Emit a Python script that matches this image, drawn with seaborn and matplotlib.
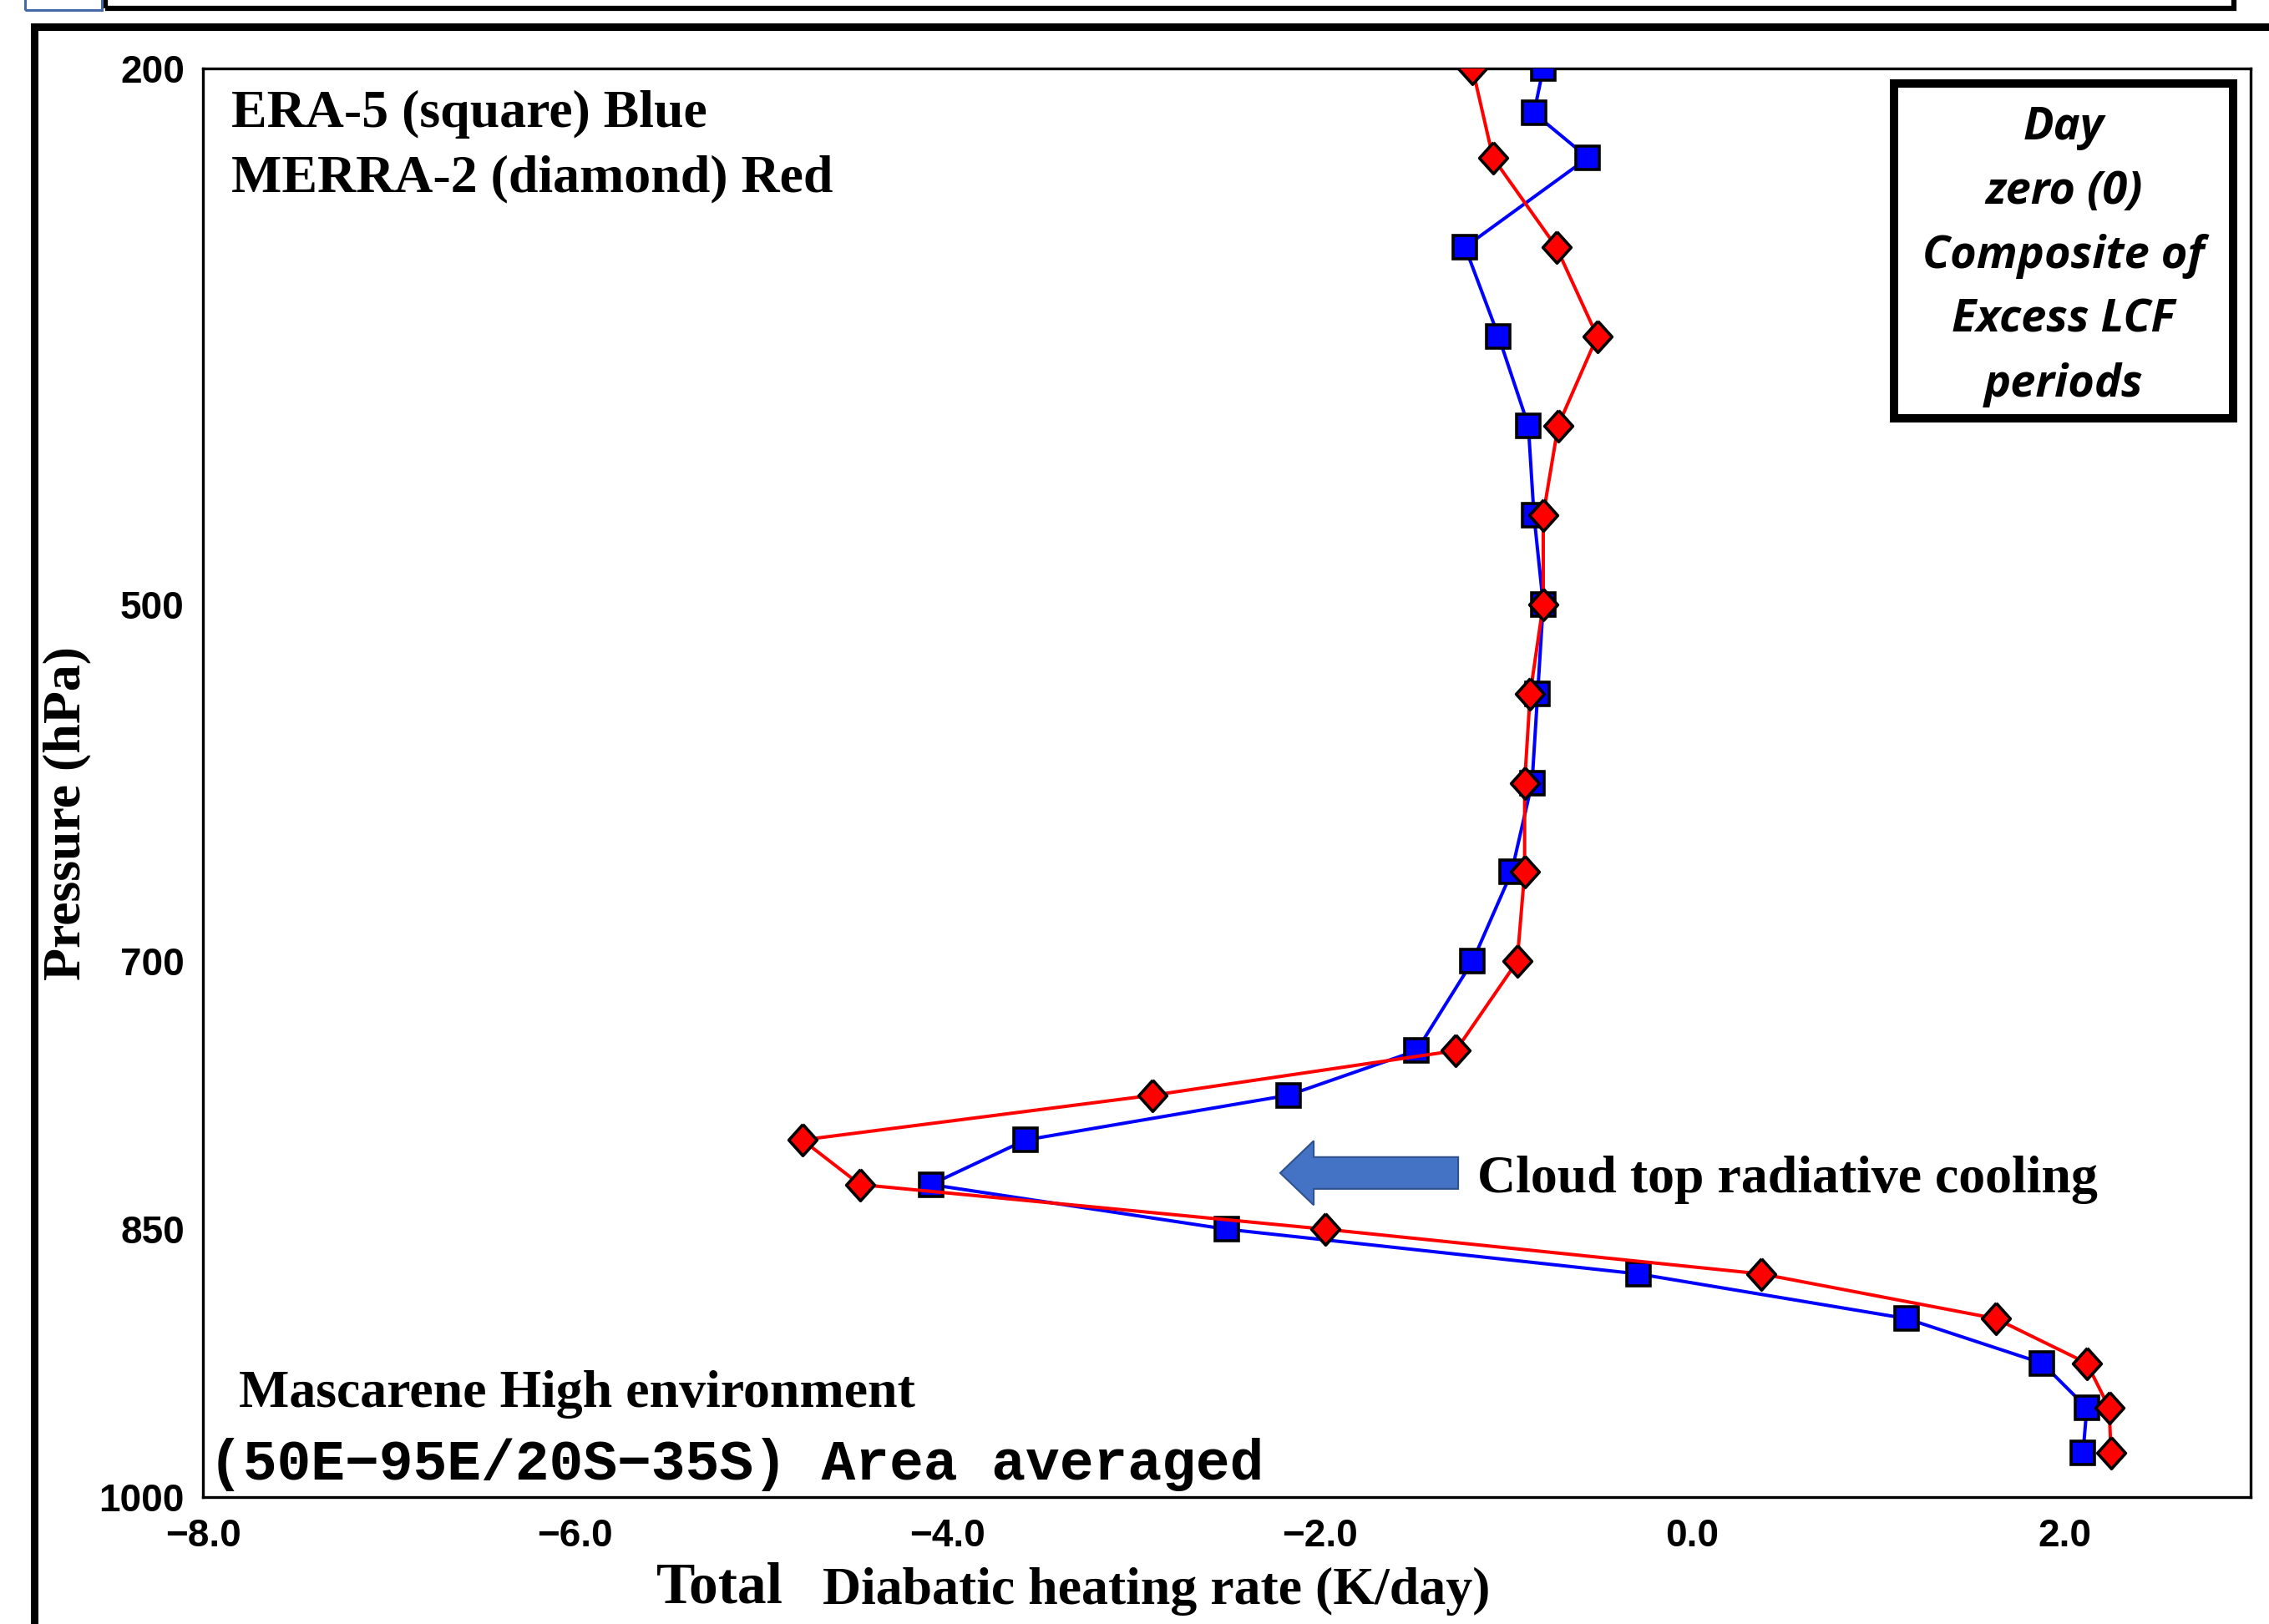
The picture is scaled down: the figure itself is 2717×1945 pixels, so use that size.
import matplotlib
matplotlib.use("Agg")
import matplotlib.pyplot as plt
import matplotlib.patches as mpatches
import seaborn as sns

# pressure levels (hPa) and total diabatic heating rate (K/day)
era5_levels = [200, 225, 250, 300, 350, 400, 450, 500, 550, 600, 650,
               700, 750, 775, 800, 825, 850, 875, 900, 925, 950, 975]
era5_heating = [-0.80, -0.85, -0.56, -1.22, -1.04, -0.88, -0.85, -0.80, -0.83, -0.86, -0.97,
                -1.18, -1.48, -2.17, -3.58, -4.09, -2.50, -0.29, 1.15, 1.88, 2.12, 2.10]

merra2_levels = [200, 250, 300, 350, 400, 450, 500, 550, 600, 650,
                 700, 750, 775, 800, 825, 850, 875, 900, 925, 950, 975]
merra2_heating = [-1.18, -1.07, -0.73, -0.51, -0.72, -0.80, -0.80, -0.87, -0.90, -0.90,
                  -0.94, -1.27, -2.90, -4.78, -4.47, -1.97, 0.37, 1.63, 2.12, 2.24, 2.25]

x_ticks = [-8, -6, -4, -2, 0, 2]
x_ticklabels = ["\u22128.0", "\u22126.0", "\u22124.0", "\u22122.0", "0.0", "2.0"]
y_ticks = [200, 500, 700, 850, 1000]
y_ticklabels = ["200", "500", "700", "850", "1000"]

box_lines = ["Day", "zero (0)", "Composite of", "Excess LCF", "periods"]

W, H = 2717, 1945


def fx(px):
    return px / W


def fy(py):
    return 1 - py / H


sns.set_style("white")
plt.rcParams["font.family"] = ["Liberation Serif", "DejaVu Serif"]
plt.rcParams["text.color"] = "black"
plt.rcParams["xtick.color"] = "black"
plt.rcParams["ytick.color"] = "black"
plt.rcParams["axes.labelcolor"] = "black"

fig = plt.figure(figsize=(W / 100, H / 100), dpi=100)
ax = fig.add_axes([fx(243), fy(1793), fx(2695) - fx(243), fy(82) - fy(1793)])

sns.lineplot(x=era5_heating, y=era5_levels, orient="y", sort=False, estimator=None,
             color="#0000FF", linewidth=2.9, marker="s", markersize=19.5,
             markerfacecolor="#0000FF", markeredgecolor="black", markeredgewidth=2.6,
             ax=ax, zorder=3)
diamond = [(0, 1), (0.9, 0), (0, -1), (-0.9, 0), (0, 1)]
sns.lineplot(x=merra2_heating, y=merra2_levels, orient="y", sort=False, estimator=None,
             color="#FF0000", linewidth=2.9, marker=diamond, markersize=27,
             markerfacecolor="#FF0000", markeredgecolor="black", markeredgewidth=2.6,
             ax=ax, zorder=4)

ax.set_xlim(-8, 3)
ax.set_ylim(1000, 200)
ax.set_xticks(x_ticks)
ax.set_xticklabels(x_ticklabels)
ax.set_yticks(y_ticks)
ax.set_yticklabels(y_ticklabels)
ax.tick_params(axis="both", length=0, labelsize=33, colors="black")
ax.tick_params(axis="y", pad=16)
ax.tick_params(axis="x", pad=18)
for lab in ax.get_xticklabels() + ax.get_yticklabels():
    lab.set_fontfamily(["Liberation Sans", "DejaVu Sans"])
    lab.set_fontweight("bold")
for sp in ax.spines.values():
    sp.set_linewidth(2.4)
    sp.set_color("black")
ax.set_xlabel("")
ax.set_ylabel("")
ax.grid(False)

# cloud-top cooling arrow
arrow = mpatches.FancyArrow(-1.257, 818.5, -0.956, 0, width=17.8, head_width=36,
                            head_length=0.18, length_includes_head=True,
                            facecolor="#4472C4", edgecolor="#2F528F", linewidth=1.5,
                            zorder=5)
ax.add_patch(arrow)

# annotations
serif_bold = dict(fontfamily=["Liberation Serif", "DejaVu Serif"], fontweight="bold", color="black")
fig.text(fx(277), fy(152), "ERA-5 (square) Blue", fontsize=46, va="baseline", **serif_bold)
fig.text(fx(277), fy(229), "MERRA-2 (diamond) Red", fontsize=46, va="baseline", **serif_bold)
fig.text(fx(286), fy(1685), "Mascarene High environment", fontsize=46, va="baseline", **serif_bold)
fig.text(fx(250), fy(1772), "(50E\u221295E/20S\u221235S) Area averaged", fontsize=49,
         va="baseline", fontfamily=["Liberation Mono", "DejaVu Sans Mono"], fontweight="bold",
         color="black")
fig.text(fx(1769), fy(1428), "Cloud top radiative cooling", fontsize=46, va="baseline", **serif_bold)
fig.text(fx(786), fy(1920), "Total", fontsize=50, va="baseline", **serif_bold)
fig.text(fx(985), fy(1921), "Diabatic heating rate (K/day)", fontsize=46, va="baseline", **serif_bold)
fig.text(fx(80), fy(974), "Pressure (hPa)", fontsize=46, rotation=90, ha="center", va="center",
         **serif_bold)

# "Day zero" box
fig.patches.append(mpatches.Rectangle((fx(2268), fy(501)), fx(2674) - fx(2268), fy(100) - fy(501),
                                      transform=fig.transFigure, facecolor="white",
                                      edgecolor="black", linewidth=7.2, zorder=6))
for i, line in enumerate(box_lines):
    fig.text(fx(2471), fy(167 + 77 * i), line, fontsize=39, ha="center", va="baseline",
             fontfamily=["Open Sans", "DejaVu Sans"], fontweight="bold", fontstyle="italic",
             color="black", zorder=7)

# slide frame
fig.patches.append(mpatches.Rectangle((fx(41), fy(2050)), fx(2800) - fx(41), fy(32) - fy(2050),
                                      transform=fig.transFigure, fill=False,
                                      edgecolor="black", linewidth=6.5, clip_on=False))
fig.patches.append(mpatches.Rectangle((fx(126), fy(10)), fx(2675) - fx(126), fy(-30) - fy(10),
                                      transform=fig.transFigure, fill=False,
                                      edgecolor="black", linewidth=4.5, clip_on=False))
fig.patches.append(mpatches.Rectangle((fx(30), fy(12)), fx(122) - fx(30), fy(-30) - fy(12),
                                      transform=fig.transFigure, fill=False,
                                      edgecolor="#4568A8", linewidth=2.2, clip_on=False))

fig.savefig("out.png", dpi=100)
